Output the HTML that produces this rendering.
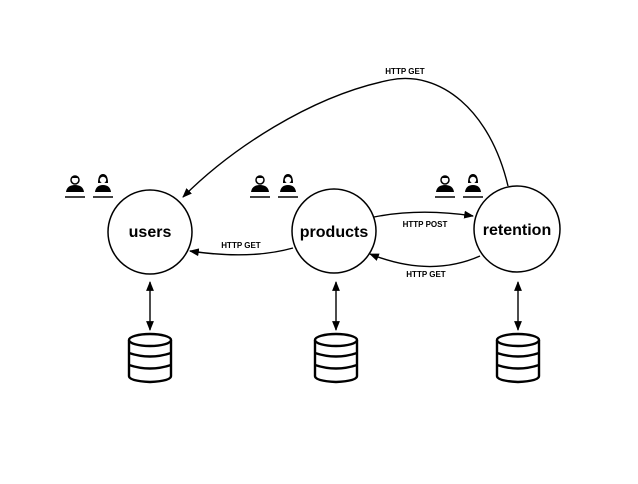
<!DOCTYPE html>
<html><head><style>
body{margin:0;background:#fff;width:638px;height:479px;overflow:hidden}
svg text{font-family:"Liberation Sans",Arial,sans-serif}
</style></head><body>
<svg width="638" height="479" viewBox="0 0 638 479">
<defs>
<marker id="a" viewBox="0 0 10 10" refX="9" refY="5" markerWidth="7" markerHeight="7" orient="auto-start-reverse"><path d="M0,1 L10,5 L0,9 z" fill="#000"/></marker>
<g id="db" fill="#fff" stroke="#000" stroke-width="2.4">
<path d="M-21,-13 L-21,23 Q-21,28 0,29 Q21,28 21,23 L21,-13"/>
<ellipse cx="0" cy="-13" rx="21" ry="6"/>
<path d="M-21,0 Q0,7 21,0 M-21,12 Q0,19 21,12" fill="none"/>
</g>
<g id="ppl">
<circle cx="0" cy="-8" r="4" fill="#fff" stroke="#000" stroke-width="1.5"/>
<path d="M-4,-10 Q0,-15 4,-10 Z" fill="#000"/>
<path d="M-9,4 Q-8,-3 0,-3 Q8,-3 9,4 Z" fill="#000"/>
<line x1="-10" y1="9" x2="10" y2="9" stroke="#000" stroke-width="1.5"/>
<path d="M20,4 Q21,-3 28,-3 Q35,-3 36,4 Z" fill="#000"/>
<path d="M23,-5 Q23,-14 28,-14 Q33,-14 33,-5 Z" fill="#000"/>
<circle cx="28" cy="-8" r="3.2" fill="#fff"/>
<line x1="18" y1="9" x2="38" y2="9" stroke="#000" stroke-width="1.5"/>
</g>
</defs>
<g fill="#fff" stroke="#000" stroke-width="1.5">
<circle cx="150" cy="232" r="42"/>
<circle cx="334" cy="231" r="42"/>
<circle cx="517" cy="229" r="43"/>
</g>
<g font-size="16" font-weight="bold" text-anchor="middle">
<text x="150" y="237">users</text>
<text x="334" y="237">products</text>
<text x="517" y="235">retention</text>
</g>
<g fill="none" stroke="#000" stroke-width="1.4" marker-end="url(#a)">
<path d="M508,186 C490,110 440,70 390,80 C310,96 230,150 183,197"/>
<path d="M293,248 Q250,260 190,251"/>
<path d="M374,217 Q420,208 473,216"/>
<path d="M480,256 Q430,278 370,254"/>
</g>
<g fill="none" stroke="#000" stroke-width="1.4" marker-start="url(#a)" marker-end="url(#a)">
<line x1="150" y1="282" x2="150" y2="330"/>
<line x1="336" y1="282" x2="336" y2="330"/>
<line x1="518" y1="282" x2="518" y2="330"/>
</g>
<g font-size="8" font-weight="bold" text-anchor="middle">
<text x="405" y="74">HTTP GET</text>
<text x="241" y="248">HTTP GET</text>
<text x="425" y="227">HTTP POST</text>
<text x="426" y="277">HTTP GET</text>
</g>
<use href="#db" x="150" y="353"/>
<use href="#db" x="336" y="353"/>
<use href="#db" x="518" y="353"/>
<use href="#ppl" x="75" y="188"/>
<use href="#ppl" x="260" y="188"/>
<use href="#ppl" x="445" y="188"/>
</svg>
</body></html>
